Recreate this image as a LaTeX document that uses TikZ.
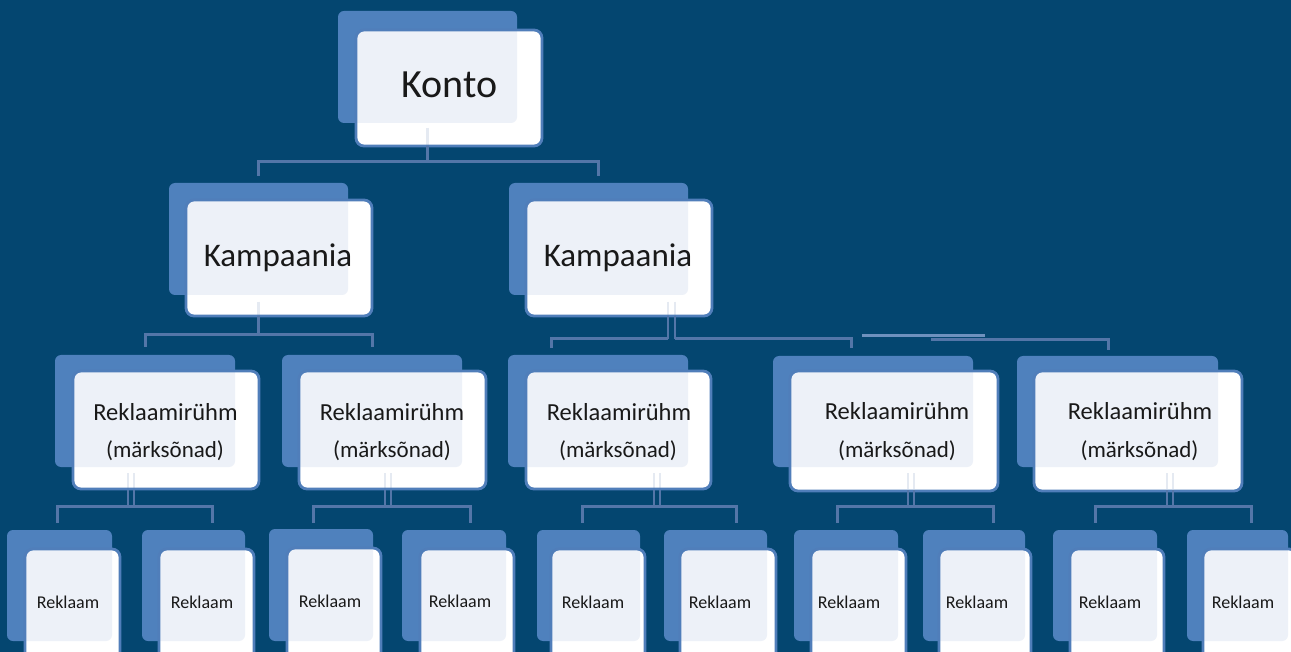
\documentclass[tikz,border=0pt]{standalone}
\usepackage{fontspec}
\setmainfont{Carlito}
\definecolor{bg}{RGB}{4,70,112}
\definecolor{backblue}{RGB}{79,129,189}
\definecolor{borderblue}{RGB}{80,126,186}
\definecolor{lightfill}{RGB}{237,241,248}
\definecolor{connblue}{RGB}{84,118,168}
\definecolor{connlight}{RGB}{110,145,190}
\definecolor{txtc}{RGB}{25,25,25}
\tikzset{
  backbox/.style={fill=backblue, rounded corners=6pt, inner sep=0pt, outer sep=0pt},
  frontbox/.style={draw=borderblue, line width=2.8pt, rounded corners=8pt, inner sep=0pt, outer sep=0pt},
  conn/.style={draw=connblue, line width=3pt},
  thinconn/.style={draw=connblue, line width=2.2pt},
  faint/.style={draw=connblue, line width=2.2pt, draw opacity=0.15},
  lbl/.style={text=txtc, inner sep=0pt, anchor=base},
  big/.style={lbl, font=\fontsize{40}{44}\selectfont},
  mid/.style={lbl, font=\fontsize{33}{38}\selectfont},
  grp/.style={lbl, font=\fontsize{24.5}{28}\selectfont},
  grps/.style={lbl, font=\fontsize{23}{28}\selectfont},
  sml/.style={lbl, font=\fontsize{18}{22}\selectfont}
}
\newcommand\mkbox[9]{%
  \node[backbox, minimum width={(#4-#2)*1pt}, minimum height={(#5-#3)*1pt}] (#1B) at ({(#2+#4)/2},{(#3+#5)/2}) {};
  \fill[white, rounded corners=8pt] (#6,#7) rectangle (#8,#9);
  \begin{scope}
    \clip[rounded corners=8pt] (#6,#7) rectangle (#8,#9);
    \fill[lightfill, rounded corners=6pt] (#2,#3) rectangle (#4,#5);
  \end{scope}
  \node[frontbox, minimum width={(#8-#6)*1pt}, minimum height={(#9-#7)*1pt}] (#1) at ({(#6+#8)/2},{(#7+#9)/2}) {};
}
\newcommand\gconn[4]{%
  \coordinate (#1v) at (#2,506);
  \coordinate (#1l) at (#3,523);
  \coordinate (#1r) at (#4,523);
  \draw[faint] ({#2-3},473) -- ({#2-3},489) ({#2+3},473) -- ({#2+3},489);
  \draw[thinconn] ({#2-3},490) -- ({#2-3},506) ({#2+3},490) -- ({#2+3},506);
  \draw[conn] (#1l) |- (#1v) -| (#1r);
}
\begin{document}
\begin{tikzpicture}[x=1pt,y=-1pt]
\useasboundingbox (0,0) rectangle (1291,652);
\fill[bg] (0,0) rectangle (1291,652);
\clip (0,0) rectangle (1291,652);

% boxes
\mkbox{konto}{338}{11}{517}{123}{356}{30}{542}{146}
\mkbox{kampL}{169}{183}{348}{295}{186}{200}{372}{316}
\mkbox{kampR}{509}{183}{688}{295}{526}{200}{712}{316}
\mkbox{g1}{55}{355}{235}{467}{73}{371}{259}{489}
\mkbox{g2}{282}{355}{462}{467}{299}{371}{486}{489}
\mkbox{g3}{508}{355}{688}{467}{526}{371}{711}{489}
\mkbox{g4}{773}{356}{973}{467}{790}{371}{998}{491}
\mkbox{g5}{1017}{356}{1218}{467}{1034}{371}{1242}{491}
\mkbox{r1}{7}{530}{112}{641}{25}{549}{120}{665}
\mkbox{r2}{142}{530}{245}{641}{159}{549}{254}{665}
\mkbox{r3}{269}{529}{373}{641}{287}{548}{381}{665}
\mkbox{r4}{402}{530}{506}{641}{420}{549}{514}{665}
\mkbox{r5}{537}{530}{640}{641}{551}{549}{645}{665}
\mkbox{r6}{664}{530}{767}{641}{680}{549}{776}{665}
\mkbox{r7}{794}{530}{898}{641}{811}{549}{906}{665}
\mkbox{r8}{923}{530}{1025}{641}{939}{549}{1031}{665}
\mkbox{r9}{1053}{530}{1157}{641}{1070}{549}{1164}{665}
\mkbox{r10}{1187}{530}{1288}{641}{1203}{549}{1297}{665}

% connectors: Konto
\coordinate (kj) at (427.5,162);
\draw[faint] ([yshift=-5pt]kontoB.south) -- (kontoB.south |- konto.south);
\draw[conn] (kontoB.south |- konto.south) -- (kj);
\draw[conn] ([yshift=7pt]kampLB.north) |- (kj) -| ([yshift=7pt]kampRB.north);

% Kampaania left
\coordinate (aj) at (258.5,335);
\draw[faint] ([yshift=-7pt]kampLB.south) -- (kampLB.south |- kampL.south);
\draw[conn] (kampLB.south |- kampL.south) -- (aj);
\draw[conn] ([yshift=8pt]g1B.north) |- (aj) -| ([yshift=8pt]g2B.north);

% Kampaania right
\coordinate (rs1) at (668,302);
\coordinate (rs2) at (675,302);
\coordinate (rj1) at (668,339);
\coordinate (rj2) at (675,339);
\coordinate (rd1) at (551,348);
\coordinate (rd2) at (851,348);
\draw[faint] (rs1) -- (rs1 |- kampR.south) (rs2) -- (rs2 |- kampR.south);
\draw[thinconn] (rs1 |- kampR.south) -- (rj1);
\draw[thinconn] (rs2 |- kampR.south) -- (rj2);
\draw[conn] (rj1) -| (rd1);
\draw[conn] (rj2) -| (rd2);
\coordinate (sa) at (862,336);
\coordinate (sb) at (985,336);
\draw[conn, draw=connlight] (sa) -- (sb);
\coordinate (sc) at (931,340);
\coordinate (sd) at (1108,350);
\draw[conn] (sc) -| (sd);

% group connectors
\gconn{g1}{131}{57}{212}
\gconn{g2}{388}{313}{470}
\gconn{g3}{657}{582}{736}
\gconn{g4}{911}{837}{993}
\gconn{g5}{1170}{1095}{1251}

% texts
\node[big] (tkonto) at (449.5,98) {Konto};
\node[mid] (tkampL) at (278,267) {Kampaania};
\node[mid] (tkampR) at (618,267) {Kampaania};
\node[grp] (tg1a) at (165.5,420) {Reklaamirühm};
\node[grps] (tg1b) at (165,457) {(märksõnad)};
\node[grp] (tg2a) at (392,420) {Reklaamirühm};
\node[grps] (tg2b) at (392,457) {(märksõnad)};
\node[grp] (tg3a) at (619,420) {Reklaamirühm};
\node[grps] (tg3b) at (618,457) {(märksõnad)};
\node[grp] (tg4a) at (897,419) {Reklaamirühm};
\node[grps] (tg4b) at (897,457) {(märksõnad)};
\node[grp] (tg5a) at (1140,419) {Reklaamirühm};
\node[grps] (tg5b) at (1139.5,457) {(märksõnad)};
\node[sml] (tr1) at (68,608) {Reklaam};
\node[sml] (tr2) at (202,608) {Reklaam};
\node[sml] (tr3) at (330,607) {Reklaam};
\node[sml] (tr4) at (460,607) {Reklaam};
\node[sml] (tr5) at (593,608) {Reklaam};
\node[sml] (tr6) at (720,608) {Reklaam};
\node[sml] (tr7) at (849,608) {Reklaam};
\node[sml] (tr8) at (977,608) {Reklaam};
\node[sml] (tr9) at (1110,608) {Reklaam};
\node[sml] (tr10) at (1243,608) {Reklaam};
\end{tikzpicture}
\end{document}
